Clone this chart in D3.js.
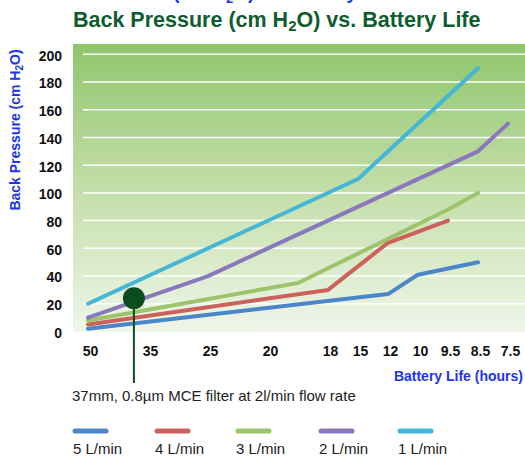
<!DOCTYPE html>
<html>
<head>
<meta charset="utf-8">
<script src="https://cdn.jsdelivr.net/npm/d3@7"></script>
<style>
    body { margin: 0; background: #fff; }
    svg { display: block; font-family: "Liberation Sans", Arial, sans-serif; }
</style>
</head>
<body>
<svg width="525" height="457"></svg>

<script>
// x positions are slots 0..14, only some get a label
var xLabels = ["50", "35", "25", "20", "18", "15", "12", "10", "9.5", "8.5", "7.5"];
var xLabelSlots = [0, 2, 4, 6, 8, 9, 10, 11, 12, 13, 14];
var yTicks = [0, 20, 40, 60, 80, 100, 120, 140, 160, 180, 200];

var seriesNames = ["5 L/min", "4 L/min", "3 L/min", "2 L/min", "1 L/min"];
var seriesColors = ["#4a86c8", "#cc605a", "#9bc46b", "#8a78bd", "#45b7d5"];

var flow5 = [[0, 2], [10, 27], [11, 41], [13, 50]];
var flow4 = [[0, 5], [8, 30], [10, 64], [12, 80]];
var flow3 = [[0, 8], [7, 35], [12, 88], [13, 100]];
var flow2 = [[0, 10], [4, 40], [13, 130], [14, 150]];
var flow1 = [[0, 20], [9, 110], [13, 190]];

var marker = [1.53, 24];

var allSeries = [flow5, flow4, flow3, flow2, flow1];

var svg = d3.select("svg");

var x = d3.scaleLinear().domain([0, 14]).range([88, 508]);
var y = d3.scaleLinear().domain([0, 200]).range([331.5, 54.3]);

// background gradient
var grad = svg.append("defs").append("linearGradient")
    .attr("id", "bg").attr("x1", 0).attr("y1", 0).attr("x2", 0).attr("y2", 1);
grad.append("stop").attr("offset", "0%").attr("stop-color", "#8fc66d");
grad.append("stop").attr("offset", "50%").attr("stop-color", "#c3dea8");
grad.append("stop").attr("offset", "100%").attr("stop-color", "#eff6ea");

svg.append("rect")
    .attr("x", 73).attr("y", 44)
    .attr("width", 525 - 73).attr("height", 331.7 - 44)
    .attr("fill", "url(#bg)");

// cut off line at very top
svg.append("text")
    .attr("x", 36).attr("y", -1)
    .attr("fill", "#2233ee").attr("font-weight", "bold").attr("font-size", 19)
    .html("Back Pressure (cm H<tspan font-size='13' dy='4'>2</tspan><tspan dy='-4'>O) vs. Battery Life</tspan>");

// title
svg.append("text")
    .attr("x", 73).attr("y", 27)
    .attr("fill", "#0f5c2e").attr("font-weight", "bold").attr("font-size", 21.5)
    .html("Back Pressure (cm H<tspan font-size='15' dy='4'>2</tspan><tspan dy='-4'>O) vs. Battery Life</tspan>");

// gridlines
svg.append("g").selectAll("line")
    .data(yTicks.filter(d => d > 0))
    .enter().append("line")
    .attr("x1", 83).attr("x2", 525)
    .attr("y1", d => y(d)).attr("y2", d => y(d))
    .attr("stroke", "#fff").attr("stroke-width", 1.5);

// y axis
var yAxis = svg.append("g")
    .attr("transform", "translate(66,0)")
    .call(d3.axisLeft(y).tickValues(yTicks).tickSize(0).tickPadding(4));
yAxis.select(".domain").remove();
yAxis.selectAll("text")
    .attr("font-family", "Liberation Sans, Arial, sans-serif")
    .attr("font-size", 14).attr("font-weight", "bold").attr("fill", "#111")
    .attr("dy", "0.42em");

// x axis
var xAxis = svg.append("g")
    .attr("transform", "translate(2,343)")
    .call(d3.axisBottom(x).tickValues(xLabelSlots)
        .tickFormat((d, i) => xLabels[i]).tickSize(0).tickPadding(0));
xAxis.select(".domain").remove();
xAxis.selectAll("text")
    .attr("font-family", "Liberation Sans, Arial, sans-serif")
    .attr("font-size", 14).attr("font-weight", "bold").attr("fill", "#111")
    .attr("dy", "13");

// axis titles
svg.append("text")
    .attr("transform", "translate(20,130) rotate(-90)")
    .attr("text-anchor", "middle")
    .attr("fill", "#2233ee").attr("font-weight", "bold").attr("font-size", 14)
    .html("Back Pressure (cm H<tspan font-size='10' dy='3'>2</tspan><tspan dy='-3'>O)</tspan>");

svg.append("text")
    .attr("x", 523).attr("y", 381)
    .attr("text-anchor", "end")
    .attr("fill", "#2233ee").attr("font-weight", "bold").attr("font-size", 14)
    .text("Battery Life (hours)");

// series lines
var line = d3.line().x(d => x(d[0])).y(d => y(d[1]));
svg.append("g").selectAll("path")
    .data(allSeries)
    .enter().append("path")
    .attr("d", line)
    .attr("fill", "none")
    .attr("stroke", (d, i) => seriesColors[i])
    .attr("stroke-width", 4)
    .attr("stroke-linecap", "round")
    .attr("stroke-linejoin", "round");

// marker pin
svg.append("line")
    .attr("x1", x(marker[0])).attr("x2", x(marker[0]))
    .attr("y1", y(marker[1])).attr("y2", 383)
    .attr("stroke", "#0b4d1e").attr("stroke-width", 2);
svg.append("circle")
    .attr("cx", x(marker[0])).attr("cy", y(marker[1]))
    .attr("r", 11)
    .attr("fill", "#0b4d1e");

svg.append("text")
    .attr("x", 72).attr("y", 401)
    .attr("fill", "#222").attr("font-size", 15)
    .text("37mm, 0.8\u00b5m MCE filter at 2l/min flow rate");

// legend
var legendX = [73, 155, 236, 319, 398];
var leg = svg.append("g").selectAll("g")
    .data(seriesNames)
    .enter().append("g")
    .attr("transform", (d, i) => "translate(" + legendX[i] + ",0)");
leg.append("line")
    .attr("x1", 2).attr("x2", 33)
    .attr("y1", 431).attr("y2", 431)
    .attr("stroke", (d, i) => seriesColors[i])
    .attr("stroke-width", 5)
    .attr("stroke-linecap", "round");
leg.append("text")
    .attr("x", 0).attr("y", 454)
    .attr("fill", "#222").attr("font-size", 15)
    .text(d => d);
</script>
</body>
</html>
